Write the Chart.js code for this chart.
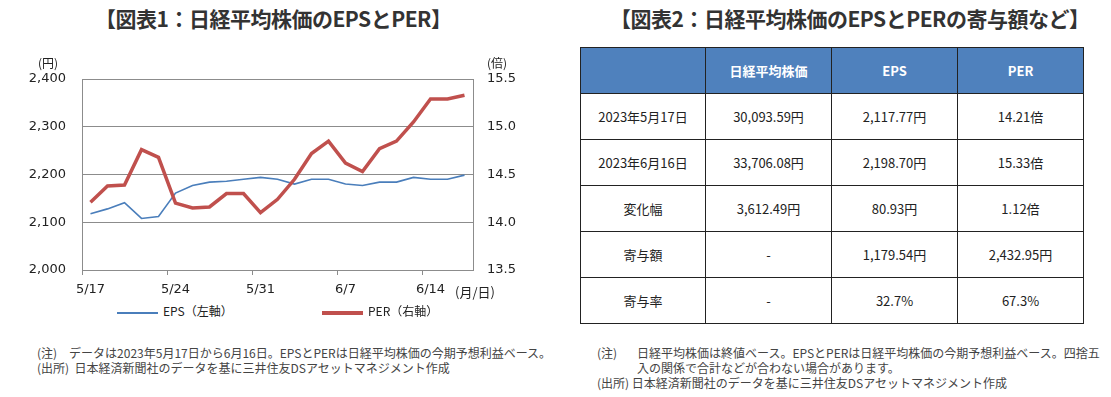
<!DOCTYPE html>
<html lang="ja">
<head>
<meta charset="utf-8">
<script src="https://cdn.jsdelivr.net/npm/chart.js@4.4.0/dist/chart.umd.min.js"></script>
<style>
  body { margin: 0; width: 1111px; height: 397px; background: #fff; position: relative; overflow: hidden;
         font-family: "Noto Sans CJK JP", sans-serif; color: #222; }
  .abs { position: absolute; white-space: nowrap; }
  .title { top: 3px; font-weight: bold; font-size: 21px; color: #333; letter-spacing: -0.5px; }
  .unit { font-size: 12px; color: #222; }
  .legend { top: 302px; font-size: 12px; color: #222; line-height: 18px; }
  .legend i { display: inline-block; width: 41px; vertical-align: middle; margin-right: 5px; }
  .note { font-size: 12px; color: #444; line-height: 15px; }
  #tbl { position: absolute; left: 580px; top: 47px; border-collapse: collapse; table-layout: fixed; font-size: 13px; }
  #tbl td, #tbl th { border: 1px solid #222; height: 45px; padding: 0; text-align: center; }
  #tbl th { background: #4f81bd; color: #fff; font-weight: bold; }
</style>
</head>
<body>
<div class="abs title" style="left:95px">【図表1：日経平均株価のEPSとPER】</div>
<div class="abs title" style="left:610px">【図表2：日経平均株価のEPSとPERの寄与額など】</div>

<div class="abs" style="left:0; top:50px"><canvas id="chart" width="560" height="250"></canvas></div>
<div class="abs unit" style="left:38px; top:54px">(円)</div>
<div class="abs unit" style="left:487px; top:54px">(倍)</div>
<div class="abs unit" style="left:455px; top:282px; font-size:13px">(月/日)</div>
<div class="abs legend" style="left:117px"><i style="border-top:2px solid #4a7ebb"></i>EPS（左軸）</div>
<div class="abs legend" style="left:322px"><i style="border-top:4px solid #c0504d"></i>PER（右軸）</div>

<div class="abs note" style="left:37px; top:345px">(注)　データは2023年5月17日から6月16日。EPSとPERは日経平均株価の今期予想利益ベース。<br>(出所)&nbsp;&nbsp;日本経済新聞社のデータを基に三井住友DSアセットマネジメント作成</div>
<div class="abs note" style="left:597px; top:345px">(注)</div>
<div class="abs note" style="left:637px; top:345px">日経平均株価は終値ベース。EPSとPERは日経平均株価の今期予想利益ベース。四捨五<br>入の関係で合計などが合わない場合があります。</div>
<div class="abs note" style="left:597px; top:375px">(出所)&nbsp;日本経済新聞社のデータを基に三井住友DSアセットマネジメント作成</div>

<table id="tbl"></table>

<script>
const dates = ['5/17', '5/18', '5/19', '5/22', '5/23', '5/24', '5/25', '5/26', '5/29', '5/30', '5/31',
               '6/1', '6/2', '6/5', '6/6', '6/7', '6/8', '6/9', '6/12', '6/13', '6/14', '6/15', '6/16'];
const eps = [2117.77, 2128, 2141, 2108, 2112, 2161, 2177, 2184, 2186, 2190, 2194,
             2190, 2180, 2190, 2190, 2180, 2177, 2184, 2184, 2194, 2190, 2190, 2198.70];
const per = [14.21, 14.38, 14.39, 14.76, 14.68, 14.20, 14.15, 14.16, 14.30, 14.30, 14.10,
             14.24, 14.45, 14.72, 14.85, 14.62, 14.53, 14.77, 14.85, 15.05, 15.29, 15.29, 15.33];
const epsTicks = [2000, 2100, 2200, 2300, 2400];
const perTicks = [13.5, 14.0, 14.5, 15.0, 15.5];

const tableHead = ['', '日経平均株価', 'EPS', 'PER'];
const tableRows = [
    ['2023年5月17日', '30,093.59円', '2,117.77円', '14.21倍'],
    ['2023年6月16日', '33,706.08円', '2,198.70円', '15.33倍'],
    ['変化幅', '3,612.49円', '80.93円', '1.12倍'],
    ['寄与額', '-', '1,179.54円', '2,432.95円'],
    ['寄与率', '-', '32.7%', '67.3%']
];
const colWidths = [125, 126, 126, 126];

// table
const tbl = document.getElementById('tbl');
let html = '<colgroup>' + colWidths.map(w => '<col style="width:' + w + 'px">').join('') + '</colgroup>';
html += '<tr>' + tableHead.map(h => '<th>' + h + '</th>').join('') + '</tr>';
tableRows.forEach(r => {
    html += '<tr>' + r.map(c => '<td>' + c + '</td>').join('') + '</tr>';
});
tbl.innerHTML = html;

// chart
const axisFont = { family: '"DejaVu Sans", "Noto Sans CJK JP", sans-serif', size: 13 };
const gridGray = '#8c8c8c';

new Chart(document.getElementById('chart'), {
    type: 'line',
    data: {
        labels: dates,
        datasets: [
            {
                label: 'PER（右軸）',
                data: per,
                yAxisID: 'y2',
                borderColor: '#c0504d',
                borderWidth: 3.5,
                pointRadius: 0,
                tension: 0,
                order: 0
            },
            {
                label: 'EPS（左軸）',
                data: eps,
                yAxisID: 'y',
                borderColor: '#4a7ebb',
                borderWidth: 1.6,
                pointRadius: 0,
                tension: 0,
                order: 1
            }
        ]
    },
    options: {
        responsive: false,
        animation: false,
        devicePixelRatio: 1,
        layout: { padding: { top: 29, left: 0, right: 0, bottom: 0 } },
        plugins: { legend: { display: false }, tooltip: { enabled: false } },
        scales: {
            x: {
                offset: true,
                grid: {
                    offset: true,
                    drawOnChartArea: false,
                    drawTicks: true,
                    tickLength: 5,
                    color: ctx => (ctx.index !== undefined && ctx.index % 5 === 0) ? gridGray : 'rgba(0,0,0,0)'
                },
                border: { display: true, color: gridGray },
                ticks: {
                    autoSkip: false,
                    maxRotation: 0,
                    padding: 7,
                    color: '#222',
                    font: axisFont,
                    callback: (v, i) => i % 5 === 0 ? dates[i] : ''
                },
                afterFit: s => { s.height = 30; }
            },
            y: {
                position: 'left',
                min: epsTicks[0],
                max: epsTicks[epsTicks.length - 1],
                afterBuildTicks: s => { s.ticks = epsTicks.map(v => ({ value: v })); },
                grid: { color: gridGray, drawTicks: false },
                border: { color: gridGray },
                ticks: {
                    padding: 16,
                    color: '#222',
                    font: axisFont,
                    callback: v => v.toLocaleString('en-US')
                },
                afterFit: s => { s.width = 82; }
            },
            y2: {
                position: 'right',
                min: perTicks[0],
                max: perTicks[perTicks.length - 1],
                afterBuildTicks: s => { s.ticks = perTicks.map(v => ({ value: v })); },
                grid: { drawOnChartArea: false, drawTicks: false },
                border: { color: gridGray },
                ticks: {
                    padding: 14,
                    color: '#222',
                    font: axisFont,
                    callback: v => Number(v).toFixed(1)
                },
                afterFit: s => { s.width = 87; }
            }
        }
    }
});
</script>
</body>
</html>
